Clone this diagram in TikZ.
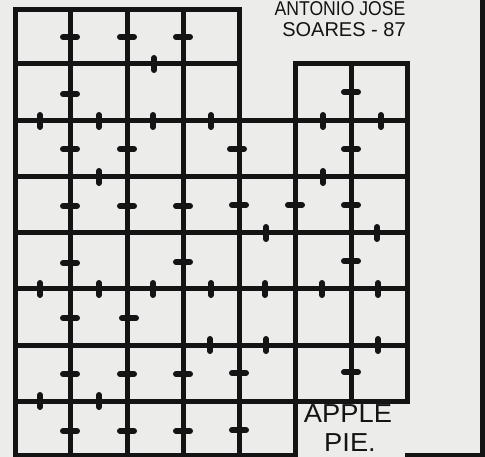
\documentclass[tikz,border=0pt]{standalone}
\usepackage{fontspec}
\setmainfont{Liberation Sans}
\definecolor{paper}{RGB}{236,236,234}
\definecolor{ink}{RGB}{20,20,20}
\tikzset{
  gridline/.style={draw=ink, line width=5pt, line cap=rect},
  hdash/.style={draw=ink, line width=6pt, line cap=round},
  vdash/.style={draw=ink, line width=6pt, line cap=round},
  lettering/.style={text=ink, inner sep=0pt, font=\fontsize{20}{20}\selectfont},
  biglettering/.style={text=ink, inner sep=0pt, font=\fontsize{26}{26}\selectfont},
}
\begin{document}
\begin{tikzpicture}[x=1pt, y=-1pt]
  \fill[paper] (0,0) rectangle (485,457);
  \useasboundingbox (0,0) rectangle (485,457);
  % grid coordinates
  \def\XA{15}\def\XB{70}\def\XC{127}\def\XD{183}\def\XE{239}\def\XF{295}\def\XG{351}\def\XH{407}
  \def\YA{10}\def\YB{64}\def\YC{121}\def\YD{177}\def\YE{233}\def\YF{289}\def\YG{345}\def\YH{401}\def\YI{455}
  % vertical lines
  \foreach \x in {\XA,\XB,\XC,\XD,\XE} \draw[gridline] (\x,\YA) -- (\x,\YI);
  \draw[gridline] (\XF,\YB) -- (\XF,\YI);
  \draw[gridline] (\XG,\YB) -- (\XG,\YH);
  \draw[gridline] (\XH,\YB) -- (\XH,\YH);
  % horizontal lines
  \draw[gridline] (\XA,\YA) -- (\XE,\YA);
  \draw[gridline] (\XA,\YB) -- (\XE,\YB);
  \draw[gridline] (\XF,\YB) -- (\XH,\YB);
  \foreach \y in {\YC,\YD,\YE,\YF,\YG,\YH} \draw[gridline] (\XA,\y) -- (\XH,\y);
  % frame: bottom and right
  \draw[draw=ink, line width=4pt] (\XA,\YI) -- (\XF,\YI);
  \draw[draw=ink, line width=4pt] (405,\YI) -- (485,\YI);
  \draw[draw=ink, line width=5pt] (482.5,0) -- (482.5,457);
  % horizontal dashes on vertical lines (x, row centre y)
  \foreach \x/\y in {
    \XB/37, \XC/37, \XD/37,
    \XB/94, \XG/92,
    \XB/149, \XC/149, 237/149, \XG/149,
    \XB/206, \XC/206, \XD/206, \XE/205, \XF/205, \XG/205,
    \XB/263, \XD/262, \XG/261,
    \XB/318, 129/318,
    \XB/374, \XC/374, \XD/374, \XE/373, \XG/372,
    \XB/431, \XC/431, \XD/431, \XE/430}
    \draw[hdash] (\x-7,\y) -- (\x+7,\y);
  % vertical dashes on horizontal lines (column centre x, y)
  \foreach \x/\y in {
    154/\YB,
    40/\YC, 99/\YC, 153/\YC, 211/\YC, 323/\YC, 381/\YC,
    99/\YD, 323/\YD,
    266/\YE, 377/\YE,
    40/\YF, 99/\YF, 153/\YF, 211/\YF, 265/\YF, 322/\YF, 378/\YF,
    210/\YG, 266/\YG, 378/\YG,
    40/\YH, 99/\YH}
    \draw[vdash] (\x,\y-6) -- (\x,\y+6);
  % lettering
  \node[lettering, xscale=0.88] (author1) at (340,9) {ANTONIO JOSE};
  \node[lettering] (author2) at (344,30) {SOARES - 87};
  \node[biglettering, xscale=1.05] (title1) at (348,414) {APPLE};
  \node[biglettering, xscale=1.05] (title2) at (350,443) {PIE.};
\end{tikzpicture}
\end{document}
